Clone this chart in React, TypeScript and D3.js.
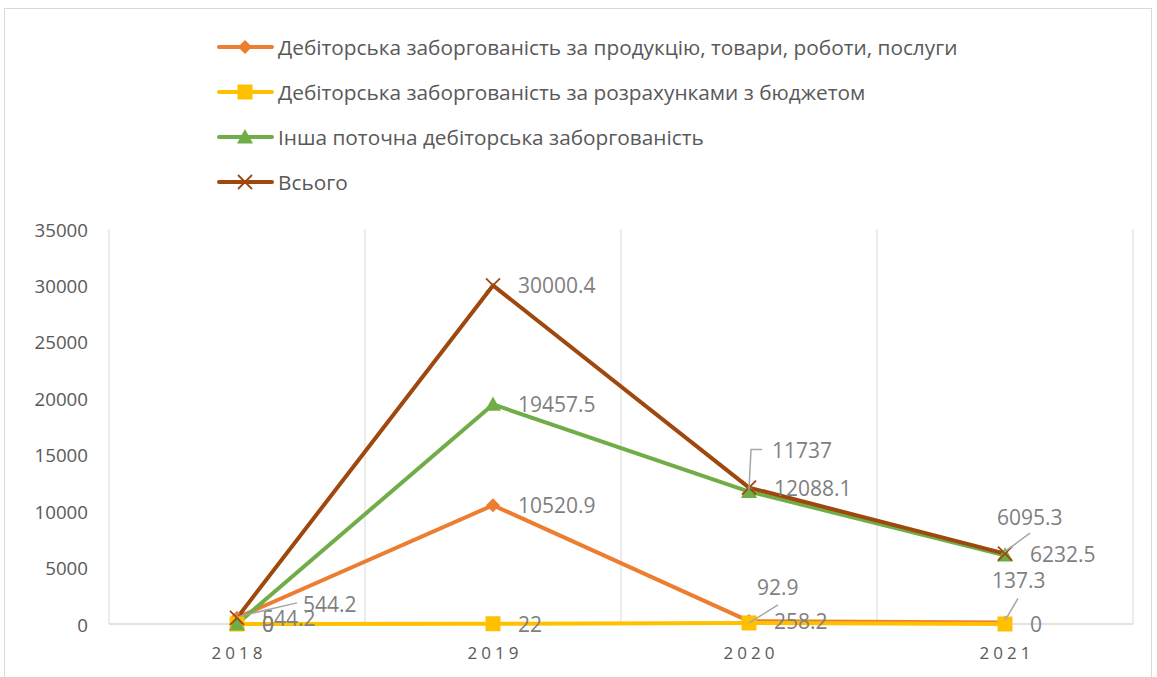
import React from "react";
import * as d3 from "d3";

const years = ["2018", "2019", "2020", "2021"];
const seriesNames = [
  "Дебіторська заборгованість за продукцію, товари, роботи, послуги",
  "Дебіторська заборгованість за розрахунками з бюджетом",
  "Інша поточна дебіторська заборгованість",
  "Всього",
];
const productValues = [544.2, 10520.9, 258.2, 137.3];
const budgetValues = [0, 22, 92.9, 0];
const otherValues = [0, 19457.5, 11737, 6095.3];
const totalValues = [544.2, 30000.4, 12088.1, 6232.5];
const yTicks = [0, 5000, 10000, 15000, 20000, 25000, 30000, 35000];

const colors = ["#ED7D31", "#FFC000", "#70AD47", "#9E480E"];
const markers = ["diamond", "square", "triangle", "x"];

// label placement offsets (style only): [dx, dy, leader]
type LP = { dx: number; dy: number; leader?: [number, number][] };
const R: LP = { dx: 25, dy: 0 };
const labelPlacement: LP[][] = [
  [R, R, R, { dx: -13, dy: -42, leader: [[0, -2], [13, -24]] }],
  [R, R, { dx: 8, dy: -36, leader: [[0, 0], [29, -18]] }, R],
  [R, R, { dx: 23, dy: -42, leader: [[0, -2], [2, -42], [13, -42]] }, { dx: -8, dy: -38, leader: [[-1, -3], [25, -22]] }],
  [{ dx: 66, dy: -14, leader: [[0, -1], [60, -15]] }, R, R, R],
];

const W = 1157, H = 677;
const plot = { left: 109, right: 1133, top: 229, bottom: 624 };
const font = "'Open Sans', sans-serif";

function Marker({ type, x, y, color }: { type: string; x: number; y: number; color: string }) {
  if (type === "diamond") {
    const s = 7;
    return <path d={`M${x},${y - s}L${x + s},${y}L${x},${y + s}L${x - s},${y}Z`} fill={color} />;
  }
  if (type === "square") {
    const s = 7.5;
    return <rect x={x - s} y={y - s} width={2 * s} height={2 * s} fill={color} />;
  }
  if (type === "triangle") {
    const s = 8;
    return <path d={`M${x},${y - s}L${x + s},${y + s * 0.8}L${x - s},${y + s * 0.8}Z`} fill={color} />;
  }
  const s = 7;
  return (
    <path d={`M${x - s},${y - s}L${x + s},${y + s}M${x + s},${y - s}L${x - s},${y + s}`} stroke={color} strokeWidth={1.8} fill="none" />
  );
}

export default function App() {
  const allSeries = [productValues, budgetValues, otherValues, totalValues];
  const x = d3.scaleBand<string>().domain(years).range([plot.left, plot.right]);
  const y = d3.scaleLinear().domain([0, 35000]).range([plot.bottom, plot.top]);
  const cx = (yr: string) => (x(yr) as number) + x.bandwidth() / 2;
  const line = d3
    .line<number>()
    .x((_, i) => cx(years[i]))
    .y((d) => y(d));
  const gridXs = [plot.left, ...years.map((yr) => (x(yr) as number) + x.bandwidth())];

  return (
    <svg width={W} height={H} style={{ position: "absolute", left: 0, top: 0, background: "#fff" }}>
      <rect x={4.5} y={8.5} width={1147} height={672} fill="#fff" stroke="#d9d9d9" strokeWidth={1} />
      {gridXs.map((gx, i) => (
        <line key={i} x1={gx} x2={gx} y1={plot.top} y2={plot.bottom} stroke="#d9d9d9" strokeWidth={1} />
      ))}
      <line x1={plot.left} x2={plot.right} y1={plot.bottom} y2={plot.bottom} stroke="#d9d9d9" strokeWidth={1.5} />
      {yTicks.map((t) => (
        <text key={t} x={88} y={y(t)} textAnchor="end" dominantBaseline="central" fontFamily={font} fontSize={18.7} fill="#595959">
          {t}
        </text>
      ))}
      {years.map((yr) => (
        <text key={yr} x={cx(yr) + 2} y={652} textAnchor="middle" dominantBaseline="central" fontFamily={font} fontSize={17} letterSpacing={4} fill="#595959">
          {yr}
        </text>
      ))}
      {allSeries.map((vals, si) => (
        <path key={si} d={line(vals) as string} fill="none" stroke={colors[si]} strokeWidth={4} strokeLinejoin="round" strokeLinecap="round" />
      ))}
      {allSeries.map((vals, si) =>
        vals.map((v, i) => <Marker key={`${si}-${i}`} type={markers[si]} x={cx(years[i])} y={y(v)} color={colors[si]} />)
      )}
      {allSeries.map((vals, si) =>
        vals.map((v, i) => {
          const p = labelPlacement[si][i];
          const px = cx(years[i]);
          const py = y(v);
          return (
            <g key={`l${si}-${i}`}>
              {p.leader && (
                <polyline
                  points={p.leader.map(([a, b]) => `${px + a},${py + b}`).join(" ")}
                  fill="none"
                  stroke="#a6a6a6"
                  strokeWidth={1.5}
                />
              )}
              <text x={px + p.dx} y={py + p.dy} dominantBaseline="central" fontFamily={font} fontSize={21} fill="#7f7f7f">
                {String(v)}
              </text>
            </g>
          );
        })
      )}
      {seriesNames.map((name, i) => {
        const ly = 47 + i * 45;
        return (
          <g key={name}>
            <line x1={219} x2={272} y1={ly} y2={ly} stroke={colors[i]} strokeWidth={4} strokeLinecap="round" />
            <Marker type={markers[i]} x={245} y={ly} color={colors[i]} />
            <text x={278} y={ly} dominantBaseline="central" fontFamily={font} fontSize={20.8} fill="#595959">
              {name}
            </text>
          </g>
        );
      })}
    </svg>
  );
}
